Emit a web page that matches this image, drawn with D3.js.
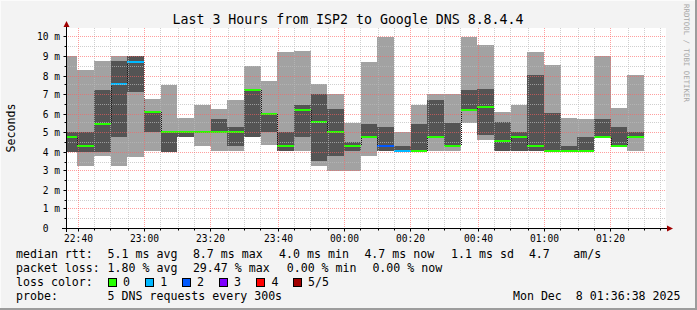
<!DOCTYPE html>
<html>
<head>
<meta charset="utf-8">
<script src="https://cdn.jsdelivr.net/npm/d3@7"></script>
<style>
  html, body { margin: 0; padding: 0; background: #f3f3f3; }
  svg { display: block; font-family: "DejaVu Sans Mono", monospace; }
</style>
</head>
<body>
<svg id="chart" width="697" height="310"></svg>
<script>
const title = "Last 3 Hours from ISP2 to Google DNS 8.8.4.4";
const yLabel = "Seconds";
const watermark = "RRDTOOL / TOBI OETIKER";

// time window and first step end (5 min steps)
const windowStart = new Date(2025, 11, 7, 22, 36, 38);
const windowEnd = new Date(2025, 11, 8, 1, 36, 38);
const firstStepEnd = new Date(2025, 11, 7, 22, 40, 0);
const stepMinutes = 5;

// sorted ping rtt per step, ms (p1 = fastest ... p5 = slowest), p3 = median
const pingMin  = [4.00, 3.26, 3.75, 3.26, 3.70, 4.01, 4.00, 4.75, 4.28, 4.01, 4.01, 4.75, 4.33, 4.01, 4.01, 3.26, 3.00, 3.00,
                  3.75, 4.01, 4.01, 4.01, 4.01, 4.01, 5.50, 4.59, 4.01, 4.01, 4.01, 4.01, 4.01, 4.01, 4.75, 4.28, 4.01];
const pingLow  = [4.00, 4.00, 4.00, 4.75, 7.14, 5.03, 4.00, 4.75, 4.95, 5.00, 4.28, 4.75, 5.01, 4.01, 4.75, 3.53, 3.75, 4.01,
                  4.75, 4.01, 4.01, 4.01, 4.75, 4.28, 6.20, 4.89, 4.01, 4.01, 4.01, 4.01, 4.01, 4.01, 4.75, 4.28, 4.75];
const median   = [4.75, 4.28, 5.46, 7.52, 8.71, 6.07, 5.00, 5.00, 5.00, 5.00, 5.00, 7.21, 5.99, 4.28, 6.20, 5.55, 5.01, 4.28,
                  4.75, 4.28, 4.01, 4.01, 4.75, 4.28, 6.20, 6.32, 4.54, 4.75, 4.28, 4.01, 4.01, 4.01, 4.75, 4.28, 4.75];
const pingHigh = [5.00, 5.00, 7.24, 8.76, 9.02, 6.07, 5.00, 5.00, 5.05, 5.72, 5.27, 7.21, 5.99, 5.01, 6.46, 7.02, 6.25, 4.50,
                  5.46, 5.27, 4.31, 5.46, 6.72, 5.50, 7.24, 7.29, 5.53, 5.01, 7.99, 6.02, 4.28, 4.75, 5.72, 5.27, 5.01];
const pingMax  = [9.00, 8.29, 8.76, 9.02, 9.02, 6.77, 7.50, 5.76, 6.46, 6.25, 6.72, 8.46, 7.68, 9.23, 9.28, 7.56, 7.02, 5.50,
                  8.71, 10.00, 5.01, 6.46, 7.02, 7.02, 10.00, 9.60, 6.06, 6.46, 9.23, 8.55, 5.78, 5.72, 8.99, 6.30, 7.99];
const lossCount = [0, 0, 0, 1, 1, 0, 0, 0, 0, 0, 0, 0, 0, 0, 0, 0, 0, 0,
                   0, 2, 1, 0, 0, 0, 0, 0, 0, 0, 0, 0, 0, 0, 0, 0, 0];

const lossColors = ["#26ff00", "#00b8ff", "#0059ff", "#7e00ff", "#ff0000", "#a10000"];
const lossLabels = ["0", "1", "2", "3", "4", "5/5"];

const yTicks = d3.range(0, 11);
const yMinorTicks = d3.range(0.5, 10.5, 1);
const yMax = 10.47;

const rttStats = ["5.1 ms avg", "8.7 ms max", "4.0 ms min", "4.7 ms now", "1.1 ms sd", "4.7", "am/s"];
const lossStats = ["1.80 % avg", "29.47 % max", "0.00 % min", "0.00 % now"];
const probeText = "5 DNS requests every 300s";
const stampText = "Mon Dec  8 01:36:38 2025";

// ---- layout ----
const W = 697, H = 310;
const plot = { left: 66, right: 666, top: 28, bottom: 228 };
const svg = d3.select("#chart");

svg.append("rect").attr("width", W).attr("height", H).attr("fill", "#f3f3f3");
// 3d frame
svg.append("path").attr("d", `M0,${H}V0H${W}`).attr("fill", "none").attr("stroke", "#fbfbfb").attr("stroke-width", 2);
svg.append("path").attr("d", `M0,${H - 1}H${W - 1}V0`).attr("fill", "none").attr("stroke", "#9c9c9c").attr("stroke-width", 2);

svg.append("rect")
  .attr("x", plot.left).attr("y", plot.top)
  .attr("width", plot.right - plot.left).attr("height", plot.bottom - plot.top)
  .attr("fill", "#ffffff");

const x = d3.scaleTime().domain([windowStart, windowEnd]).range([plot.left, plot.right]);
const y = d3.scaleLinear().domain([0, yMax]).range([plot.bottom, plot.top]);

const steps = median.map((m, i) => {
  const end = d3.timeMinute.offset(firstStepEnd, i * stepMinutes);
  const start = d3.timeMinute.offset(end, -stepMinutes);
  return {
    x0: Math.round(Math.max(x(start), plot.left)), x1: Math.round(x(end)),
    p1: pingMin[i], p2: pingLow[i], p3: m, p4: pingHigh[i], p5: pingMax[i],
    loss: lossCount[i]
  };
});

const g = svg.append("g").attr("shape-rendering", "crispEdges");

// smoke: outer pair
g.append("g").selectAll("rect").data(steps).join("rect")
  .attr("x", d => d.x0).attr("width", d => d.x1 - d.x0)
  .attr("y", d => y(d.p5)).attr("height", d => y(d.p1) - y(d.p5))
  .attr("fill", "#a2a2a2");

// smoke: inner pair
g.append("g").selectAll("rect").data(steps).join("rect")
  .attr("x", d => d.x0).attr("width", d => d.x1 - d.x0)
  .attr("y", d => y(d.p4)).attr("height", d => Math.max(1, y(d.p2) - y(d.p4)))
  .attr("fill", "#545454");

// dotted path helpers: 1 px on, 1 px off, dots on even pixels
const even = v => Math.round(v / 2) * 2;
const dotsH = (py, xa, xb) => d3.range(even(xa), xb, 2).map(px => `M${px},${py + 0.5}h1`).join("");
const dotsV = (px, ya, yb) => d3.range(even(Math.min(ya, yb)), Math.max(ya, yb), 2).map(py => `M${px + 0.5},${py}v1`).join("");

// median step connectors
g.append("g").selectAll("path").data(steps.slice(1)).join("path")
  .attr("d", (d, i) => dotsV(d.x0, Math.round(y(steps[i].p3)), Math.round(y(d.p3))))
  .attr("fill", "none").attr("stroke", "#1a1a1a");

// median coloured by loss
g.append("g").selectAll("rect").data(steps).join("rect")
  .attr("x", d => d.x0).attr("width", d => d.x1 - d.x0)
  .attr("y", d => Math.round(y(d.p3)) - 1).attr("height", 2)
  .attr("fill", d => lossColors[d.loss]);

// ---- grid, on top of the data ----
const grid = svg.append("g").attr("shape-rendering", "crispEdges").attr("fill", "none");
const minorTimes = d3.timeMinute.every(5).range(windowStart, windowEnd).filter(t => t.getMinutes() % 20 !== 0);
const majorTimes = d3.timeMinute.every(20).range(windowStart, windowEnd);
const gy = v => even(y(v));
const gx = t => even(x(t));

grid.append("g").selectAll("path").data(yMinorTicks).join("path")
  .attr("d", v => dotsH(gy(v), plot.left + 2, plot.right))
  .attr("stroke", "#bababa").attr("stroke-opacity", 0.7);
grid.append("g").selectAll("path").data(minorTimes).join("path")
  .attr("d", t => dotsV(gx(t), plot.top, plot.bottom))
  .attr("stroke", "#bababa").attr("stroke-opacity", 0.7);
grid.append("g").selectAll("path").data(yTicks.filter(v => v > 0)).join("path")
  .attr("d", v => dotsH(gy(v), plot.left + 2, plot.right))
  .attr("stroke", "#ff5f5f").attr("stroke-opacity", 0.6);
grid.append("g").selectAll("path").data(majorTimes).join("path")
  .attr("d", t => dotsV(gx(t), plot.top, plot.bottom))
  .attr("stroke", "#ff5f5f").attr("stroke-opacity", 0.6);

// ---- axes ----
const yAxis = d3.axisLeft(y).tickValues(yTicks).tickSize(3).tickPadding(3.5)
  .tickFormat(d => d === 0 ? "0\u00a0\u00a0" : d + " m");
const yAxisG = svg.append("g").attr("transform", `translate(${plot.left + 0.5},0)`).call(yAxis);
yAxisG.select(".domain").remove();
yAxisG.selectAll("text").attr("font-size", 9.6).attr("font-family", "DejaVu Sans Mono").attr("fill", "#000");
yAxisG.selectAll(".tick").attr("transform", d => `translate(0,${gy(d) + 0.5})`);

const yMinorAxis = d3.axisLeft(y).tickValues(yMinorTicks).tickSize(2).tickFormat("");
const yMinorG = svg.append("g").attr("transform", `translate(${plot.left + 0.5},0)`).call(yMinorAxis);
yMinorG.select(".domain").remove();
yMinorG.selectAll(".tick").attr("transform", d => `translate(0,${gy(d) + 0.5})`);

const xAxis = d3.axisBottom(x).tickValues(majorTimes).tickSize(3).tickPadding(3.2)
  .tickFormat(d3.timeFormat("%H:%M"));
const xAxisG = svg.append("g").attr("transform", `translate(0,${plot.bottom + 0.5})`).call(xAxis);
xAxisG.select(".domain").remove();
xAxisG.selectAll("text").attr("font-size", 9.6).attr("font-family", "DejaVu Sans Mono").attr("fill", "#000");
xAxisG.selectAll(".tick").attr("transform", d => `translate(${gx(d) + 0.5},0)`);

const xMinorAxis = d3.axisBottom(x).tickValues(minorTimes).tickSize(2).tickFormat("");
const xMinorG = svg.append("g").attr("transform", `translate(0,${plot.bottom + 0.5})`).call(xMinorAxis);
xMinorG.select(".domain").remove();
xMinorG.selectAll(".tick").attr("transform", d => `translate(${gx(d) + 0.5},0)`);

// axis lines with arrows
svg.append("line").attr("x1", plot.left - 4).attr("x2", plot.right + 3)
  .attr("y1", plot.bottom + 0.5).attr("y2", plot.bottom + 0.5).attr("stroke", "#000");
svg.append("line").attr("x1", plot.left + 0.5).attr("x2", plot.left + 0.5)
  .attr("y1", plot.bottom + 4).attr("y2", plot.top - 3).attr("stroke", "#000");
svg.append("path")
  .attr("d", `M${plot.right + 1},${plot.bottom - 2.5}L${plot.right + 7},${plot.bottom + 0.5}L${plot.right + 1},${plot.bottom + 3.5}Z`)
  .attr("fill", "#a00000");
svg.append("path")
  .attr("d", `M${plot.left - 2.5},${plot.top - 1}L${plot.left + 0.5},${plot.top - 7}L${plot.left + 3.5},${plot.top - 1}Z`)
  .attr("fill", "#a00000");

// ---- texts ----
svg.append("text").attr("x", 348).attr("y", 24).attr("text-anchor", "middle")
  .attr("font-size", 13.25).text(title);

svg.append("text").attr("transform", `translate(14.5,${(plot.top + plot.bottom) / 2}) rotate(-90)`)
  .attr("text-anchor", "middle").attr("font-size", 11.6).text(yLabel);

svg.append("text").attr("transform", "translate(684,4) rotate(90)")
  .attr("font-size", 7.4).attr("fill", "#a8a8a8").text(watermark);

const legend = svg.append("g").attr("font-size", 11.6).attr("fill", "#000");
const rowY = [258.2, 272.2, 286.2, 300.2];
const col0 = 16, col1 = 107.6;

legend.append("text").attr("x", col0).attr("y", rowY[0]).text("median rtt:");
const rttX = [107.6, 192.9, 279.1, 364.4, 451.1, 528.9, 573.3];
legend.selectAll(".rtt").data(rttStats).join("text").attr("class", "rtt")
  .attr("x", (d, i) => rttX[i]).attr("y", rowY[0]).text(d => d);

legend.append("text").attr("x", col0).attr("y", rowY[1]).text("packet loss:");
const lossX = [107.6, 192.9, 286.7, 372.4];
legend.selectAll(".pl").data(lossStats).join("text").attr("class", "pl")
  .attr("x", (d, i) => lossX[i]).attr("y", rowY[1]).text(d => d);

legend.append("text").attr("x", col0).attr("y", rowY[2]).text("loss color:");
const boxX = [108, 145.3, 182, 219, 256.4, 293];
const lc = legend.selectAll(".lc").data(lossLabels).join("g").attr("class", "lc");
lc.append("rect").attr("x", (d, i) => Math.round(boxX[i]) + 0.5).attr("y", rowY[2] - 7.7)
  .attr("width", 8).attr("height", 8)
  .attr("fill", (d, i) => lossColors[i]).attr("stroke", "#000").attr("stroke-width", 1);
lc.append("text").attr("x", (d, i) => boxX[i] + 15).attr("y", rowY[2]).text(d => d);

legend.append("text").attr("x", col0).attr("y", rowY[3]).text("probe:");
legend.append("text").attr("x", col1).attr("y", rowY[3]).text(probeText);
legend.append("text").attr("x", 680.5).attr("y", rowY[3]).attr("text-anchor", "end")
  .style("white-space", "pre").text(stampText);
</script>
</body>
</html>
